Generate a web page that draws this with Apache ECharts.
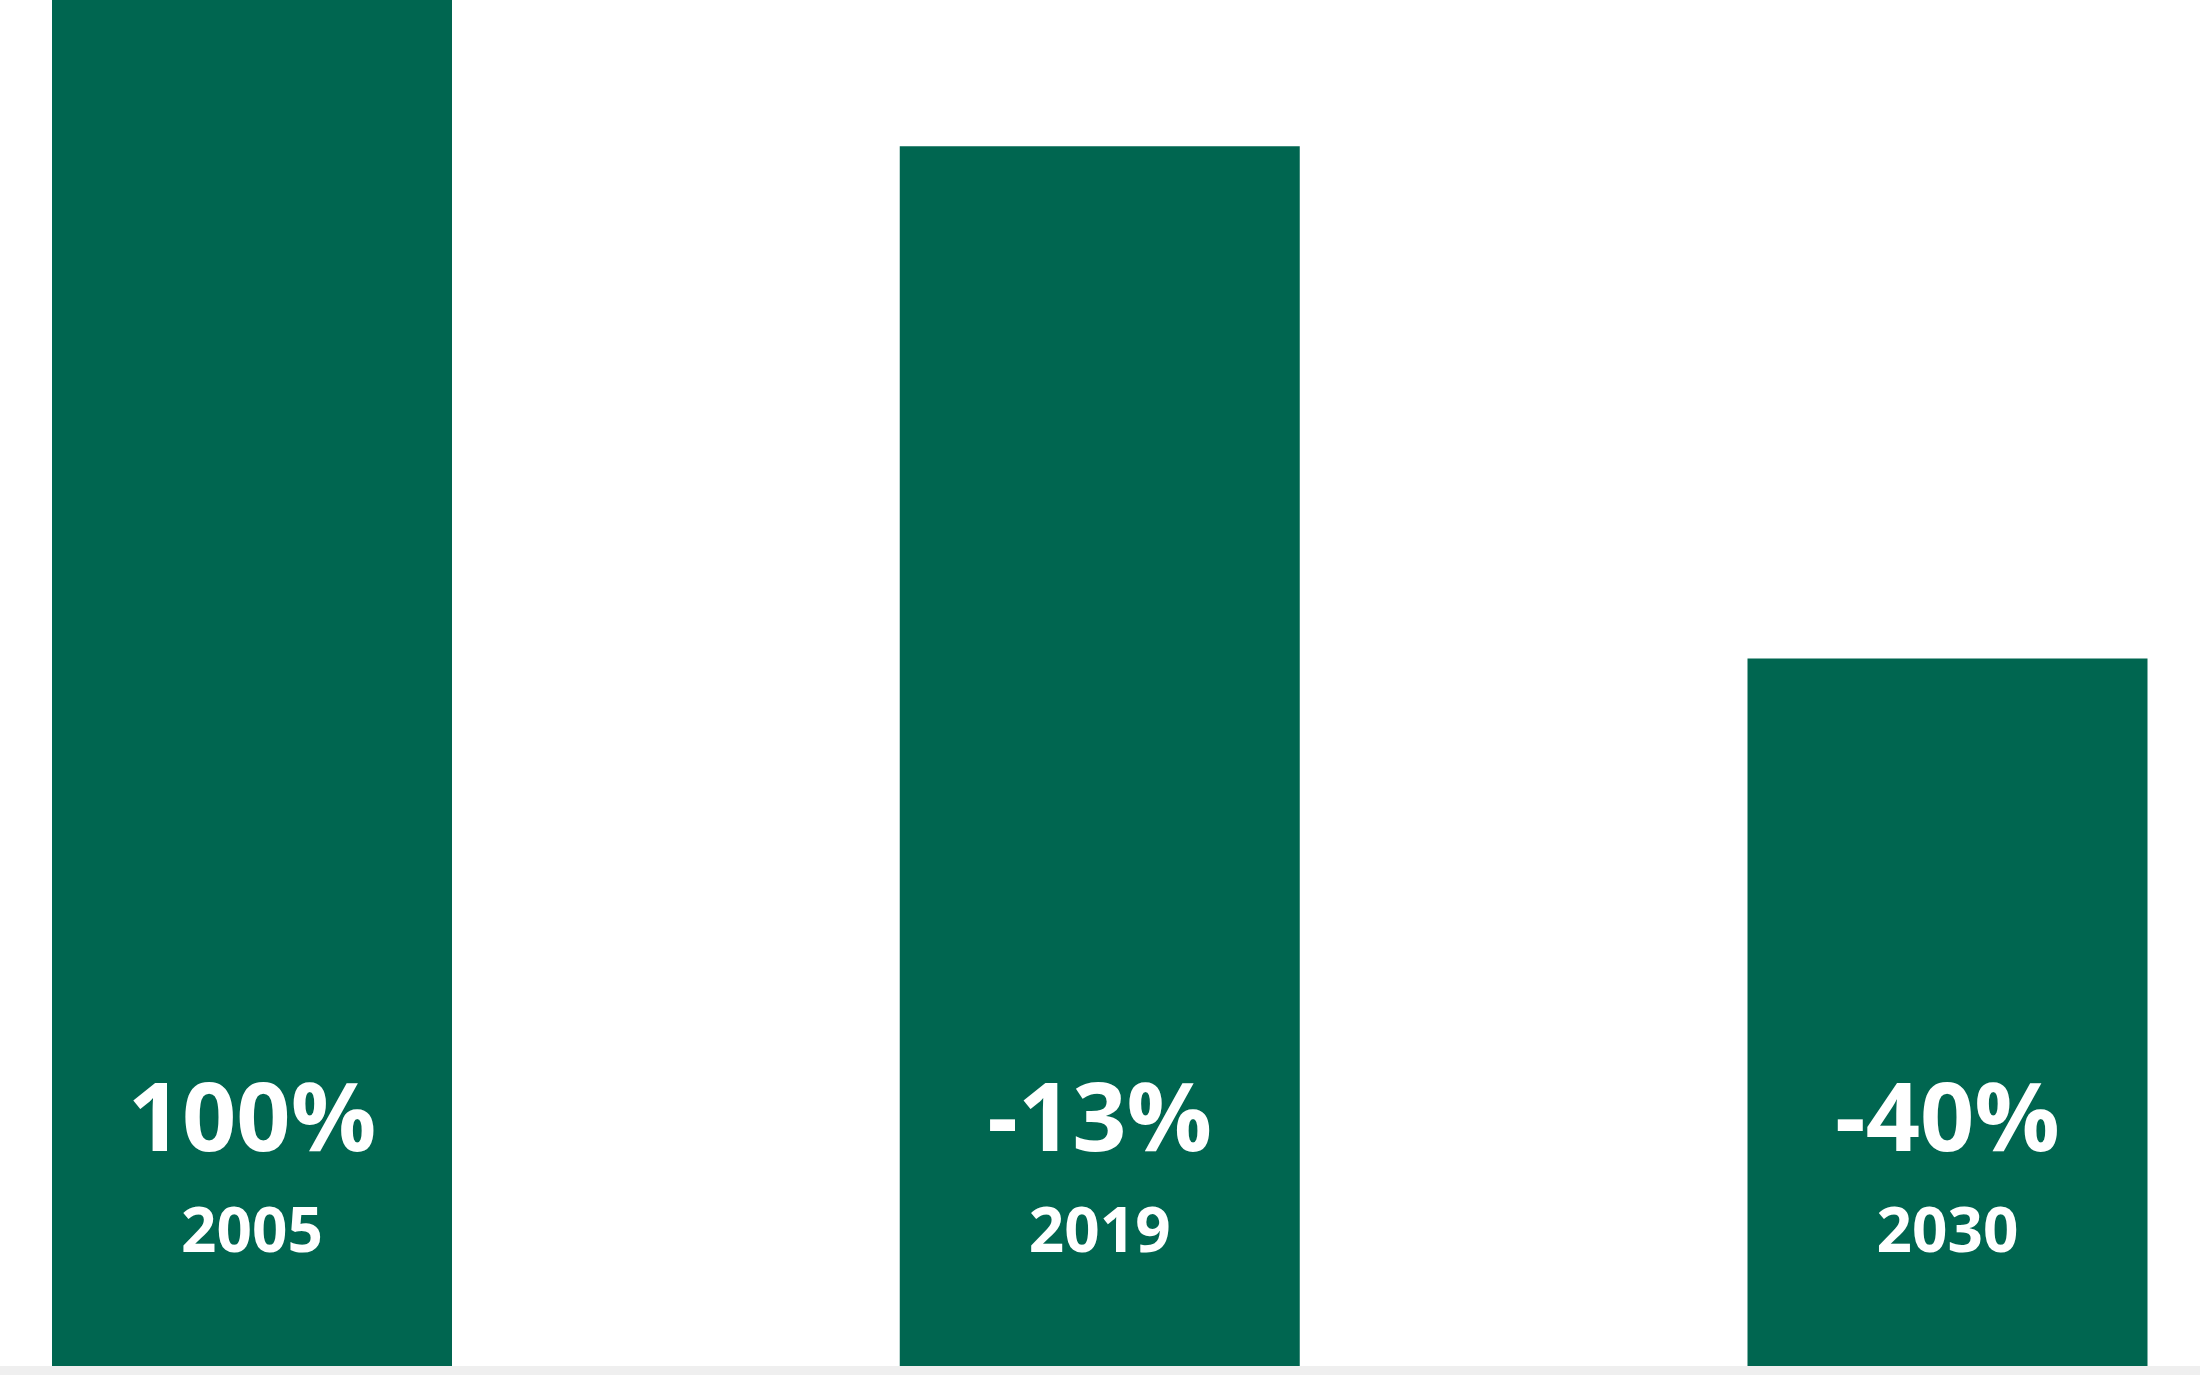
<!DOCTYPE html>
<html>
<head>
<meta charset="utf-8">
<script src="https://cdn.jsdelivr.net/npm/echarts@6/dist/echarts.min.js"></script>
<style>
html,body{margin:0;padding:0;background:#ffffff;}
#chart{width:2200px;height:1375px;}
</style>
</head>
<body>
<div id="chart"></div>
<script>
const categories = ['2005', '2019', '2030'];
const emissionsIndex = [100, 89.3, 51.8];
const changeLabels = ['100%', '-13%', '-40%'];

const chart = echarts.init(document.getElementById('chart'));
chart.setOption({
  animation: false,
  backgroundColor: '#ffffff',
  grid: { left: 252, right: 252.5, top: 0, bottom: 9 },
  xAxis: {
    type: 'category',
    data: categories,
    boundaryGap: false,
    axisLine: { show: false },
    axisTick: { show: false },
    axisLabel: { show: false }
  },
  yAxis: {
    type: 'value',
    min: 0,
    max: 100,
    show: false,
    splitLine: { show: false }
  },
  graphic: [{
    type: 'rect',
    left: 0,
    bottom: 0,
    shape: { width: 2200, height: 9 },
    style: { fill: '#efefef' },
    silent: true
  }],
  series: [{
    type: 'bar',
    data: emissionsIndex,
    barWidth: 400,
    clip: false,
    itemStyle: { color: '#006650' },
    label: {
      show: true,
      position: 'insideBottom',
      distance: 92,
      formatter: function (p) {
        return '{a|' + changeLabels[p.dataIndex] + '}\n{b|' + categories[p.dataIndex] + '}';
      },
      rich: {
        a: {
          fontFamily: 'Open Sans',
          fontWeight: 'bold',
          fontSize: 95,
          color: '#ffffff',
          lineHeight: 140,
          align: 'center'
        },
        b: {
          fontFamily: 'Open Sans',
          fontWeight: 'bold',
          fontSize: 62,
          color: '#ffffff',
          lineHeight: 80,
          align: 'center'
        }
      }
    }
  }]
});
</script>
</body>
</html>
